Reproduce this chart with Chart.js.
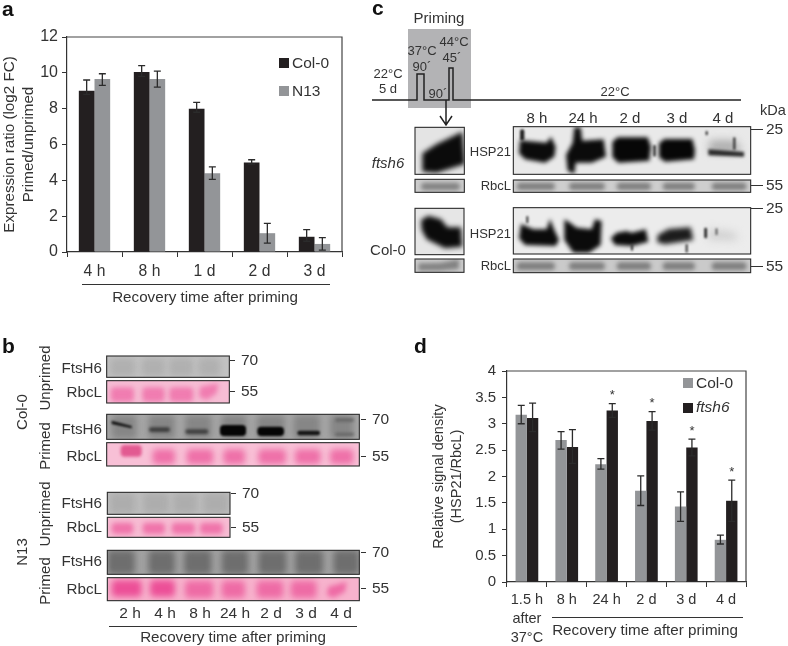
<!DOCTYPE html>
<html>
<head>
<meta charset="utf-8">
<script src="https://cdn.jsdelivr.net/npm/chart.js@4"></script>
<style>
  html, body { margin: 0; padding: 0; background: #fff; }
  #fig { position: relative; width: 788px; height: 646px; overflow: hidden; filter: blur(0.4px); font-family: "Liberation Sans", Arial, sans-serif; color: #333; }
  #fig canvas { position: absolute; }
  .lbl { position: absolute; white-space: nowrap; font-size: 15.2px; line-height: 1; }
  .bar { position: absolute; background: #333; }
</style>
</head>
<body>
<div id="fig">
  <canvas id="blots" width="788" height="646" style="left:0;top:0"></canvas>
  <canvas id="chartA" width="370" height="310" style="left:0;top:0"></canvas>
  <canvas id="chartD" width="368" height="316" style="left:420px;top:330px"></canvas>
</div>
<script>
const BLACK = '#231f20';
const GREY = '#939598';

// panel a
const catsA = ['4 h', '8 h', '1 d', '2 d', '3 d'];
const colA = [9, 10.05, 8, 5, 0.85];
const colALow = [8.8, 9.8, 7.8, 4.9, 0.6];
const colAHigh = [9.6, 10.4, 8.35, 5.15, 1.25];
const n13A = [9.65, 9.65, 4.4, 1.05, 0.45];
const n13ALow = [9.3, 9.2, 4.05, 0.5, 0.1];
const n13AHigh = [9.95, 10.1, 4.75, 1.6, 0.8];

// panel d
const catsD = [['1.5 h', 'after', '37°C'], '8 h', '24 h', '2 d', '3 d', '4 d'];
const colD = [3.17, 2.69, 2.23, 1.73, 1.43, 0.8];
const colDLow = [3, 2.52, 2.14, 1.45, 1.15, 0.72];
const colDHigh = [3.35, 2.85, 2.34, 2.01, 1.71, 0.89];
const ftsD = [3.11, 2.56, 3.25, 3.05, 2.55, 1.54];
const ftsDLow = [2.85, 2.25, 3.12, 2.88, 2.39, 1.15];
const ftsDHigh = [3.39, 2.89, 3.38, 3.23, 2.71, 1.93];
const ftsDStars = ['', '', '*', '*', '*', '*'];

const lanesB = ['2 h', '4 h', '8 h', '24 h', '2 d', '3 d', '4 d'];
const lanesC = ['8 h', '24 h', '2 d', '3 d', '4 d'];

// frame on top/right, error bars and significance stars
const extras = {
  id: 'extras',
  afterDatasetsDraw(chart) {
    const { ctx, chartArea: a, scales: { y } } = chart;
    ctx.save();
    ctx.strokeStyle = '#444';
    ctx.lineWidth = 1.2;
    ctx.beginPath();
    ctx.moveTo(a.left, a.top);
    ctx.lineTo(a.right, a.top);
    ctx.lineTo(a.right, a.bottom);
    ctx.stroke();
    chart.data.datasets.forEach((ds, i) => {
      chart.getDatasetMeta(i).data.forEach((bar, j) => {
        const top = y.getPixelForValue(ds.errHigh[j]);
        const bottom = y.getPixelForValue(ds.errLow[j]);
        ctx.strokeStyle = '#2b2b2b';
        ctx.lineWidth = 1.3;
        ctx.beginPath();
        ctx.moveTo(bar.x, top);
        ctx.lineTo(bar.x, bottom);
        ctx.moveTo(bar.x - 3.5, top);
        ctx.lineTo(bar.x + 3.5, top);
        ctx.moveTo(bar.x - 3.5, bottom);
        ctx.lineTo(bar.x + 3.5, bottom);
        ctx.stroke();
        if (ds.stars && ds.stars[j]) {
          ctx.fillStyle = '#333';
          ctx.font = '13px "Liberation Sans"';
          ctx.textAlign = 'center';
          ctx.textBaseline = 'middle';
          ctx.fillText(ds.stars[j], bar.x, top - 8);
        }
      });
    });
    ctx.restore();
  }
};

function barChart(id, labels, datasets, o) {
  const family = '"Liberation Sans"';
  return new Chart(document.getElementById(id), {
    type: 'bar',
    data: { labels, datasets },
    options: {
      responsive: false,
      animation: false,
      layout: { padding: o.padding },
      plugins: { legend: { display: false }, tooltip: { enabled: false } },
      datasets: { bar: { barPercentage: 1, categoryPercentage: 0.57 } },
      scales: {
        x: {
          grid: { drawOnChartArea: false, tickLength: 5, color: '#333' },
          border: { color: '#333', width: 1.2 },
          ticks: { color: '#333', font: { family, size: o.xFont, lineHeight: 1.3 }, padding: 4, maxRotation: 0, autoSkip: false },
          afterFit(s) { s.height = o.xHeight; s.paddingLeft = 0; s.paddingRight = 0; }
        },
        y: {
          min: 0,
          max: o.max,
          grid: { drawOnChartArea: false, tickLength: 5, color: '#333' },
          border: { color: '#333', width: 1.2 },
          ticks: { color: '#333', font: { family, size: o.yFont }, stepSize: o.step, padding: o.tickPad, callback: v => String(v) },
          title: { display: true, text: o.title, color: '#333', font: { family, size: o.titleFont, lineHeight: 1.25 }, padding: { top: o.titleTop, bottom: 0 } },
          afterFit(s) { s.width = o.yWidth; s.paddingTop = 0; s.paddingBottom = 0; }
        }
      }
    },
    plugins: [extras]
  });
}

barChart('chartA', catsA, [
  { label: 'Col-0', data: colA, backgroundColor: BLACK, errLow: colALow, errHigh: colAHigh },
  { label: 'N13', data: n13A, backgroundColor: GREY, errLow: n13ALow, errHigh: n13AHigh }
], {
  max: 12, step: 2, xFont: 15.7, yFont: 16, titleFont: 15.2, titleTop: 0, tickPad: 4, yWidth: 67, xHeight: 58,
  padding: { top: 37, right: 28, left: 0, bottom: 0 },
  title: ['Expression ratio (log2 FC)', 'Primed/unprimed']
});

barChart('chartD', catsD, [
  { label: 'Col-0', data: colD, backgroundColor: GREY, errLow: colDLow, errHigh: colDHigh },
  { label: 'ftsh6', data: ftsD, backgroundColor: BLACK, errLow: ftsDLow, errHigh: ftsDHigh, stars: ftsDStars }
], {
  max: 4, step: 0.5, xFont: 14.5, yFont: 15, titleFont: 14.5, titleTop: 10, tickPad: 6, yWidth: 87, xHeight: 64,
  padding: { top: 41, right: 42, left: 0, bottom: 0 },
  title: ['Relative signal density', '(HSP21/RbcL)']
});

// html text and rules
const fig = document.getElementById('fig');

function label(text, x, y, extra) {
  const e = Object.assign({ align: 'center', rot: 0 }, extra);
  const d = document.createElement('div');
  d.className = 'lbl';
  d.innerHTML = text;
  d.style.left = x + 'px';
  d.style.top = y + 'px';
  const tx = e.align === 'left' ? '0' : e.align === 'right' ? '-100%' : '-50%';
  d.style.transform = `translate(${tx},-50%) rotate(${e.rot}deg)`;
  if (e.size) d.style.fontSize = e.size + 'px';
  if (e.bold) { d.style.fontWeight = 'bold'; d.style.color = '#111'; }
  fig.appendChild(d);
}

function rule(x, y, w, h) {
  const d = document.createElement('div');
  d.className = 'bar';
  d.style.cssText = `left:${x}px;top:${y}px;width:${w}px;height:${h}px`;
  fig.appendChild(d);
}

function swatch(x, y, color) {
  const d = document.createElement('div');
  d.style.cssText = `position:absolute;left:${x}px;top:${y}px;width:10px;height:10px;background:${color}`;
  fig.appendChild(d);
}

label('a', 2, 8, { align: 'left', size: 21, bold: true });
label('b', 2, 345, { align: 'left', size: 21, bold: true });
label('c', 372, 7, { align: 'left', size: 21, bold: true });
label('d', 414, 345, { align: 'left', size: 21, bold: true });

// panel a extras
swatch(279, 58, BLACK);
swatch(279, 86, GREY);
label('Col-0', 292, 63, { align: 'left', size: 15.5 });
label('N13', 292, 91, { align: 'left', size: 15.5 });
rule(82, 283.5, 248, 1.2);
label('Recovery time after priming', 205, 297);

// panel d extras
swatch(683, 378, GREY);
swatch(683, 403, BLACK);
label('Col-0', 696, 383, { align: 'left', size: 15.5 });
label('<i>ftsh6</i>', 696, 407, { align: 'left', size: 15.5 });
rule(552, 617, 191, 1.2);
label('Recovery time after priming', 645, 630);

// panel b labels
[[368, 'FtsH6'], [392, 'RbcL'], [429, 'FtsH6'], [456, 'RbcL'], [503, 'FtsH6'], [527, 'RbcL'], [561, 'FtsH6'], [589, 'RbcL']]
  .forEach(([y, t]) => label(t, 102, y, { align: 'right' }));
[[44, 378, 'Unprimed'], [44, 446, 'Primed'], [21, 412, 'Col-0'], [44, 514, 'Unprimed'], [44, 581, 'Primed'], [21, 552, 'N13']]
  .forEach(([x, y, t]) => label(t, x, y, { rot: -90, size: 15 }));
[[230, 360, '70'], [230, 391, '55'], [361, 419, '70'], [361, 456, '55'], [231, 493, '70'], [231, 527, '55'], [361, 552, '70'], [361, 588, '55']]
  .forEach(([x, y, t]) => {
    rule(x, y, 5, 1.2);
    label(t, x + 11, y, { align: 'left', size: 15.5 });
  });
[130, 165, 200, 235, 271, 306, 341].forEach((x, i) => label(lanesB[i], x, 613, { size: 15.5 }));
rule(109, 626, 248, 1.2);
label('Recovery time after priming', 233, 637);

// panel c labels
label('Priming', 439, 17, { size: 15 });
label('22°C', 388, 73, { size: 13 }); label('5 d', 388, 88, { size: 13 });
label('37°C', 422, 50, { size: 13 }); label('90´', 422, 66, { size: 13 });
label('44°C', 454, 41, { size: 13 }); label('45´', 452, 57, { size: 13 });
label('90´', 438, 93, { size: 13 });
label('22°C', 615, 91, { size: 13 });
[537, 583, 630, 677, 723].forEach((x, i) => label(lanesC[i], x, 117, { size: 15 }));
label('kDa', 773, 110, { size: 14.5 });
label('<i>ftsh6</i>', 388, 162, { size: 15 });
label('Col-0', 388, 249, { size: 15 });
label('HSP21', 511, 151, { align: 'right', size: 13 });
label('HSP21', 511, 233, { align: 'right', size: 13 });
label('RbcL', 511, 185, { align: 'right', size: 13 });
label('RbcL', 511, 265, { align: 'right', size: 13 });
[[129, '25'], [185, '55'], [208, '25'], [266, '55']].forEach(([y, t]) => {
  rule(751, y, 12, 1.2);
  label(t, 766, y, { align: 'left', size: 15.5 });
});

// blots: polygons and boxes below are traced at 3x from the left/top origin of each panel
const ctx = document.getElementById('blots').getContext('2d');
const B = { x: 0, y: 330 };
const C = { x: 365, y: 120 };

function mark(org, m) {
  ctx.save();
  ctx.filter = `blur(${m.b === undefined ? 1 : m.b}px)`;
  ctx.fillStyle = m.c;
  ctx.beginPath();
  if (m.r) {
    const [x0, y0, x1, y1] = m.r;
    ctx.roundRect(org.x + x0 / 3, org.y + y0 / 3, (x1 - x0) / 3, (y1 - y0) / 3, m.round === undefined ? 4 : m.round);
  } else {
    m.p.forEach(([x, y], i) => ctx[i ? 'lineTo' : 'moveTo'](org.x + x / 3, org.y + y / 3));
    ctx.closePath();
  }
  ctx.fill();
  ctx.restore();
}

function blot(org, [x0, y0, x1, y1], bg, marks) {
  const x = org.x + x0 / 3, y = org.y + y0 / 3, w = (x1 - x0) / 3, h = (y1 - y0) / 3;
  ctx.save();
  ctx.beginPath();
  ctx.rect(x, y, w, h);
  ctx.clip();
  ctx.fillStyle = bg;
  ctx.fillRect(x, y, w, h);
  marks.forEach(m => mark(org, m));
  ctx.restore();
  ctx.strokeStyle = '#2a2a2a';
  ctx.lineWidth = 1.1;
  ctx.strokeRect(x, y, w, h);
}

const lanes = (xs, y0, y1, c, b) => xs.map(([a, z]) => ({ r: [a, y0, z, y1], c, b }));

const lanesB4 = [[330, 405], [425, 495], [507, 580], [595, 660]];
const lanesB7 = [[335, 410], [445, 525], [555, 635], [665, 740], [770, 855], [880, 960], [990, 1060]];

blot(B, [320, 78, 688, 142], '#c2c2c2', lanes(lanesB4, 85, 138, '#b0b0b0', 3));
blot(B, [320, 152, 688, 219], '#f6bdd4', [
  { r: [332, 172, 402, 215], c: '#f07cb0', b: 2.5 }, { r: [427, 172, 494, 215], c: '#f07cb0', b: 2.5 },
  { r: [508, 172, 580, 215], c: '#f07cb0', b: 2.5 }, { p: [[597, 200], [600, 170], [655, 160], [650, 190], [620, 210]], c: '#f07cb0', b: 2.5 }
]);
blot(B, [320, 253, 1078, 328], '#a6a6a6', [
  ...lanes(lanesB7, 255, 326, '#868686', 3),
  { p: [[335, 272], [395, 288], [395, 295], [335, 282]], c: '#111', b: 0.8 },
  { r: [447, 292, 510, 306], c: '#3c3c3c', b: 1.5 },
  { r: [556, 298, 625, 312], c: '#3f3f3f', b: 1.5 },
  { r: [660, 285, 738, 318], c: '#050505', b: 1 },
  { r: [772, 290, 852, 318], c: '#050505', b: 1 },
  { r: [892, 302, 960, 316], c: '#141414', b: 1 },
  { r: [1005, 265, 1062, 275], c: '#666', b: 1.5 },
  { r: [1005, 308, 1062, 318], c: '#666', b: 1.5 }
]);
blot(B, [320, 338, 1078, 408], '#f8c0d6', [
  { r: [362, 345, 425, 380], c: '#e25a91', b: 1.5 },
  ...lanes([[458, 525], [560, 640], [670, 735], [775, 858], [885, 962], [990, 1060]], 358, 403, '#ee70a8', 3)
]);
blot(B, [322, 487, 690, 553], '#bdbdbd', lanes([[330, 405], [430, 505], [520, 590], [610, 685]], 490, 550, '#adadad', 3));
blot(B, [322, 562, 690, 622], '#f7bcd3', lanes([[335, 400], [428, 495], [515, 585], [600, 668]], 578, 612, '#ef74aa', 2.5));
blot(B, [322, 661, 1078, 733], '#a2a2a2', lanes([[322, 405], [445, 525], [552, 635], [665, 745], [775, 860], [885, 970], [1000, 1078]], 661, 733, '#6e6e6e', 3));
blot(B, [322, 743, 1078, 812], '#f7b3cd', [
  { r: [335, 750, 425, 800], c: '#ec4f97', b: 3 }, { r: [450, 750, 525, 800], c: '#ec4f97', b: 3 },
  ...lanes([[555, 640], [665, 735], [770, 850], [872, 950]], 752, 804, '#ee6ba5', 3),
  { p: [[980, 795], [985, 770], [1040, 755], [1035, 785], [1000, 804]], c: '#ee6ba5', b: 2.5 }
]);

// panel c temperature program
ctx.fillStyle = '#b3b3b5';
ctx.fillRect(408, 29, 63, 79);
ctx.strokeStyle = '#222';
ctx.lineWidth = 1.5;
ctx.beginPath();
[[372, 100], [417, 100], [417, 74], [424, 74], [424, 100], [449, 100], [449, 68], [453, 68], [453, 100], [741, 100]]
  .forEach(([x, y], i) => ctx[i ? 'lineTo' : 'moveTo'](x, y));
ctx.moveTo(446, 100); ctx.lineTo(446, 125);
ctx.moveTo(440, 116); ctx.lineTo(446, 125); ctx.lineTo(452, 116);
ctx.stroke();

const rbcLanes = [[455, 570], [612, 720], [755, 858], [893, 990], [1040, 1145]];
const rbcRow = (y0, y1) => lanes(rbcLanes, y0, y1, '#7e7e7e', 2);

blot(C, [150, 22, 298, 163], '#e4e4e4', [
  { p: [[172, 100], [215, 72], [292, 35], [300, 132], [215, 158], [172, 155]], c: '#0b0b0b', b: 2.5 }
]);
blot(C, [150, 178, 298, 217], '#cdcdcd', lanes([[168, 285]], 188, 211, '#828282', 2));
blot(C, [445, 20, 1157, 163], '#e9e9e9', [
  { p: [[465, 60], [480, 62], [545, 68], [558, 50], [572, 80], [568, 110], [540, 128], [480, 118], [462, 100]], c: '#0b0b0b', b: 2 },
  { r: [465, 28, 478, 62], c: '#222', b: 1 },
  { p: [[628, 22], [647, 22], [652, 62], [716, 58], [723, 110], [680, 128], [632, 128], [628, 162], [608, 152], [603, 105], [623, 68]], c: '#0b0b0b', b: 2 },
  { p: [[742, 65], [758, 52], [848, 52], [858, 80], [853, 122], [760, 128], [742, 112]], c: '#070707', b: 2 },
  { p: [[882, 70], [898, 57], [982, 57], [990, 90], [987, 118], [900, 125], [882, 112]], c: '#070707', b: 2 },
  { r: [865, 75, 872, 110], c: '#222', b: 1 },
  { p: [[1035, 62], [1110, 62], [1132, 95], [1030, 95]], c: '#a8a8a8', b: 4 },
  { p: [[1030, 88], [1137, 96], [1137, 110], [1030, 106]], c: '#2a2a2a', b: 1.5 },
  { r: [1105, 52, 1111, 90], c: '#222', b: 0.8 },
  { r: [1022, 33, 1028, 46], c: '#222', b: 0.8 }
]);
blot(C, [445, 180, 1157, 217], '#cecece', rbcRow(188, 210));
blot(C, [150, 265, 297, 404], '#e6e6e6', [
  { p: [[168, 300], [190, 287], [228, 298], [247, 322], [288, 322], [292, 380], [240, 385], [185, 358], [170, 330]], c: '#0b0b0b', b: 2.5 }
]);
blot(C, [150, 417, 297, 457], '#cdcdcd', [
  { p: [[160, 430], [225, 428], [282, 418], [282, 447], [225, 452], [160, 452]], c: '#828282', b: 2 }
]);
blot(C, [445, 263, 1157, 402], '#ececec', [
  { p: [[468, 312], [505, 328], [545, 328], [555, 296], [567, 328], [582, 360], [572, 378], [480, 375], [462, 355]], c: '#0b0b0b', b: 2 },
  { p: [[598, 298], [615, 308], [635, 323], [680, 328], [690, 298], [710, 303], [707, 375], [672, 398], [625, 398], [598, 360]], c: '#0b0b0b', b: 2 },
  { p: [[737, 355], [755, 338], [785, 333], [800, 338], [842, 328], [850, 365], [800, 378], [750, 375]], c: '#0b0b0b', b: 2 },
  { p: [[878, 345], [910, 327], [977, 322], [985, 360], [900, 373], [876, 367]], c: '#1c1c1c', b: 2.5 },
  { p: [[1030, 328], [1110, 338], [1118, 360], [1030, 358]], c: '#cdcdcd', b: 4 },
  { r: [1018, 323, 1026, 355], c: '#222', b: 0.8 },
  { r: [1052, 325, 1057, 345], c: '#444', b: 0.8 },
  { r: [484, 288, 490, 310], c: '#333', b: 0.8 },
  { r: [962, 372, 968, 398], c: '#333', b: 0.8 },
  { r: [798, 372, 804, 392], c: '#333', b: 0.8 }
]);
blot(C, [445, 417, 1157, 458], '#cacaca', rbcRow(427, 450));
</script>
</body>
</html>
